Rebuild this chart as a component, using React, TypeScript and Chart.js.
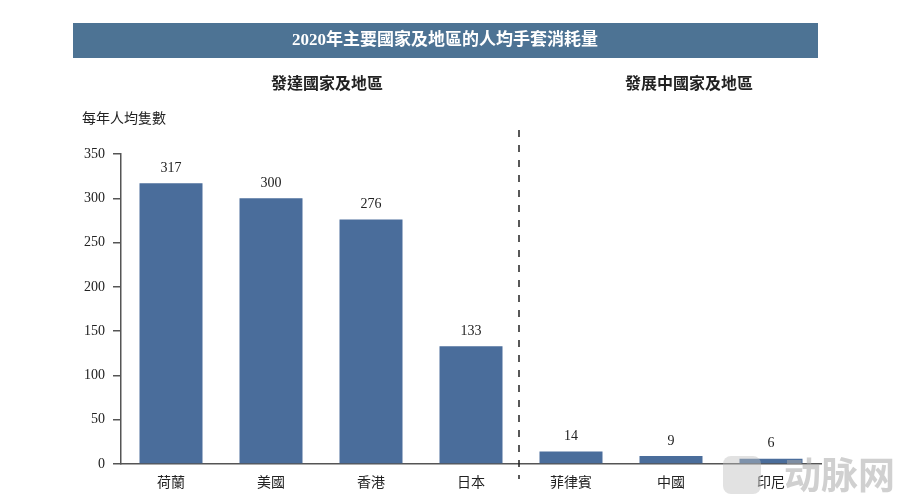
import React, { useEffect, useRef } from "react";
import { Chart, registerables } from "chart.js";

Chart.register(...registerables);

const categories = ["荷蘭", "美國", "香港", "日本", "菲律賓", "中國", "印尼"];
const values = [317, 300, 276, 133, 14, 9, 6];
const yTicks = [0, 50, 100, 150, 200, 250, 300, 350];
const titleText = "2020年主要國家及地區的人均手套消耗量";
const groupLeft = "發達國家及地區";
const groupRight = "發展中國家及地區";
const yAxisLabel = "每年人均隻數";
const watermark = "动脉网";

const SERIF = '"Liberation Serif", "DejaVu Serif", "Noto Sans CJK TC", serif';
const BAR = "#4a6d9b";
const BANNER = "#4d7394";
const AXIS = "#555555";
const TEXT = "#222222";

const decorPlugin = {
  id: "decor",
  beforeDraw(chart: any) {
    const ctx = chart.ctx;
    ctx.save();
    // banner
    ctx.fillStyle = BANNER;
    ctx.fillRect(73, 23, 745, 35);
    ctx.fillStyle = "#ffffff";
    ctx.font = `bold 17px ${SERIF}`;
    ctx.textAlign = "center";
    ctx.textBaseline = "middle";
    ctx.fillText(titleText, 445, 41);
    // group subtitles
    ctx.fillStyle = TEXT;
    ctx.font = `bold 16px ${SERIF}`;
    ctx.fillText(groupLeft, 327, 85);
    ctx.fillText(groupRight, 689, 85);
    // y axis label
    ctx.font = `14px ${SERIF}`;
    ctx.textAlign = "left";
    ctx.fillText(yAxisLabel, 82, 119);
    ctx.restore();
  },
  afterDatasetsDraw(chart: any) {
    const ctx = chart.ctx;
    const meta = chart.getDatasetMeta(0);
    ctx.save();
    ctx.fillStyle = TEXT;
    ctx.font = `14px ${SERIF}`;
    ctx.textAlign = "center";
    ctx.textBaseline = "bottom";
    meta.data.forEach((bar: any, i: number) => {
      ctx.fillText(String(values[i]), bar.x, bar.y - 8);
    });
    // dashed divider between groups
    const xs = chart.scales.x;
    const xd = (xs.getPixelForValue(3) + xs.getPixelForValue(4)) / 2 - 2;
    ctx.strokeStyle = "#222222";
    ctx.lineWidth = 1.5;
    ctx.setLineDash([7, 8]);
    ctx.beginPath();
    ctx.moveTo(xd, 130);
    ctx.lineTo(xd, 479);
    ctx.stroke();
    ctx.setLineDash([]);
    // watermark
    ctx.fillStyle = "rgba(170,170,170,0.55)";
    ctx.font = `bold 37px "Noto Sans CJK SC", sans-serif`;
    ctx.textAlign = "left";
    ctx.textBaseline = "middle";
    ctx.fillText(watermark, 784, 475);
    ctx.beginPath();
    const rx = 723, ry = 456, rw = 38, rh = 38, r = 8;
    ctx.moveTo(rx + r, ry);
    ctx.arcTo(rx + rw, ry, rx + rw, ry + rh, r);
    ctx.arcTo(rx + rw, ry + rh, rx, ry + rh, r);
    ctx.arcTo(rx, ry + rh, rx, ry, r);
    ctx.arcTo(rx, ry, rx + rw, ry, r);
    ctx.closePath();
    ctx.fillStyle = "rgba(190,190,190,0.45)";
    ctx.fill();
    ctx.restore();
  },
};

export default function App() {
  const ref = useRef<HTMLCanvasElement | null>(null);
  useEffect(() => {
    if (!ref.current) return;
    const chart = new Chart(ref.current, {
      type: "bar",
      data: {
        labels: categories,
        datasets: [
          {
            data: values,
            backgroundColor: BAR,
            borderWidth: 0,
            barPercentage: 0.63,
            categoryPercentage: 1,
          },
        ],
      },
      options: {
        responsive: false,
        animation: false,
        maintainAspectRatio: false,
        layout: { padding: { left: 0, top: 154, right: 95, bottom: 0 } },
        plugins: {
          legend: { display: false },
          tooltip: { enabled: false },
          title: { display: false },
        },
        scales: {
          x: {
            grid: { display: false },
            border: { display: true, color: AXIS, width: 1.5 },
            ticks: {
              color: TEXT,
              font: { family: SERIF, size: 14 },
              padding: 3,
              maxRotation: 0,
            },
            afterFit(scale: any) {
              scale.height = 38;
            },
          },
          y: {
            min: 0,
            max: 350,
            afterBuildTicks(scale: any) {
              scale.ticks = yTicks.map((v) => ({ value: v }));
            },
            grid: {
              display: true,
              drawOnChartArea: false,
              drawTicks: true,
              tickLength: 8,
              color: AXIS,
              lineWidth: 1.5,
            },
            border: { display: true, color: AXIS, width: 1.5 },
            ticks: {
              color: TEXT,
              font: { family: SERIF, size: 14 },
              padding: 8,
            },
            afterFit(scale: any) {
              scale.width = 121;
            },
          },
        },
      },
      plugins: [decorPlugin],
    } as any);
    return () => chart.destroy();
  }, []);
  return (
    <div style={{ position: "absolute", left: 0, top: 0, width: 916, height: 502, background: "#fff" }}>
      <canvas ref={ref} width={916} height={502} style={{ display: "block" }} />
    </div>
  );
}
